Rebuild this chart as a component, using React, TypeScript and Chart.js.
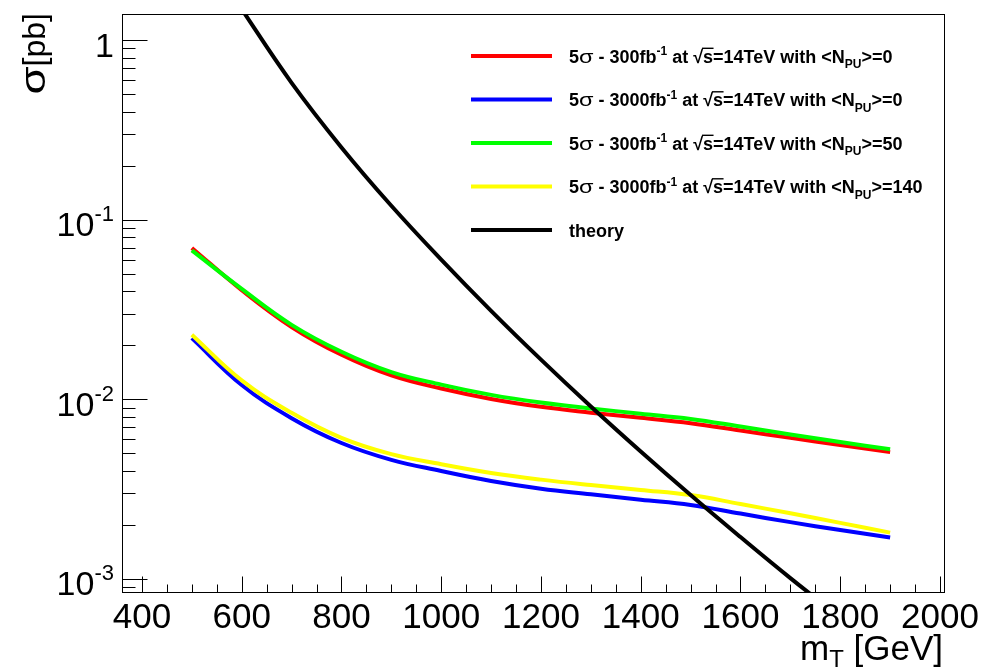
import React, { useEffect, useRef } from "react";
import { Chart, registerables } from "chart.js";

Chart.register(...registerables);

// ---------- data ----------
const massGeV = [500, 600, 700, 800, 900, 1000, 1100, 1200, 1300, 1400, 1500, 1600, 1700, 1800, 1900];
const red300PU0 = [0.0697, 0.04055, 0.02529, 0.0177, 0.01358, 0.01148, 0.01005, 0.00908, 0.00843, 0.00789, 0.00736, 0.0067, 0.0061, 0.00556, 0.00508];
const blue3000PU0 = [0.02193, 0.01202, 0.00785, 0.00571, 0.0046, 0.00399, 0.00351, 0.00318, 0.00296, 0.00276, 0.00258, 0.00231, 0.00207, 0.00187, 0.0017];
const green300PU50 = [0.0675, 0.0412, 0.026, 0.01841, 0.01419, 0.01208, 0.01059, 0.00959, 0.00889, 0.00832, 0.00778, 0.00705, 0.00637, 0.00578, 0.00527];
const yellow3000PU140 = [0.0229, 0.01274, 0.00841, 0.0061, 0.00495, 0.00435, 0.00389, 0.00357, 0.00333, 0.00313, 0.00293, 0.00261, 0.00232, 0.00205, 0.00181];
const theoryMassGeV = [550, 600, 700, 800, 900, 1000, 1100, 1200, 1300, 1400, 1500, 1600, 1700, 1800];
const theoryXsec = [2.44, 1.49, 0.579, 0.253, 0.1197, 0.06, 0.0311, 0.01663, 0.00912, 0.00512, 0.00293, 0.00171, 0.00101, 0.00061];

const xMajorTicks = [400, 600, 800, 1000, 1200, 1400, 1600, 1800, 2000];
const xMinorStep = 50;
const yMajorTicks = [1, 0.1, 0.01, 0.001];
const yMajorExponents = [0, -1, -2, -3];

const FONT = '"Liberation Sans", Arial, Helvetica, sans-serif';

type Seg = { t: string; size: number; dy?: number; sx?: number; bold?: boolean; overline?: boolean };

const legendEntries: { color: string; segs: Seg[] }[] = (() => {
  const mk = (lumi: string, pu: string): Seg[] => [
    { t: "5", size: 18, bold: true },
    { t: "σ", size: 18, sx: 1.3 },
    { t: " - " + lumi + "fb", size: 18, bold: true },
    { t: "-1", size: 12, bold: true, dy: -7.5 },
    { t: " at ", size: 18, bold: true },
    { t: "√", size: 18, bold: true },
    { t: "s", size: 18, bold: true, overline: true },
    { t: "=14TeV with <N", size: 18, bold: true },
    { t: "PU", size: 12, bold: true, dy: 5.5 },
    { t: ">=" + pu, size: 18, bold: true },
  ];
  return [
    { color: "#ff0000", segs: mk("300", "0") },
    { color: "#0000ff", segs: mk("3000", "0") },
    { color: "#00ff00", segs: mk("300", "50") },
    { color: "#ffff00", segs: mk("3000", "140") },
    { color: "#000000", segs: [{ t: "theory", size: 18, bold: true }] },
  ];
})();

function fontOf(s: Seg) {
  return `${s.bold ? "bold " : ""}${s.size}px ${FONT}`;
}

function richWidth(ctx: CanvasRenderingContext2D, segs: Seg[]) {
  let w = 0;
  for (const s of segs) {
    ctx.font = fontOf(s);
    w += ctx.measureText(s.t).width * (s.sx ?? 1);
  }
  return w;
}

function drawRich(ctx: CanvasRenderingContext2D, segs: Seg[], x: number, y: number) {
  let cx = x;
  let radTop = y - 14;
  for (const s of segs) {
    ctx.font = fontOf(s);
    const m = ctx.measureText(s.t);
    const w = m.width * (s.sx ?? 1);
    ctx.save();
    ctx.translate(cx, y + (s.dy ?? 0));
    ctx.scale(s.sx ?? 1, 1);
    ctx.fillText(s.t, 0, 0);
    ctx.restore();
    if (s.t === "√") radTop = y - m.actualBoundingBoxAscent + 0.8;
    if (s.overline) {
      ctx.save();
      ctx.lineWidth = 1.4;
      ctx.beginPath();
      ctx.moveTo(cx - 1, radTop);
      ctx.lineTo(cx + w + 0.5, radTop);
      ctx.stroke();
      ctx.restore();
    }
    cx += w;
  }
  return cx;
}

const rootStylePlugin = {
  id: "rootStyle",
  afterDatasetsDraw(chart: any) {
    const { ctx, chartArea: a, scales } = chart;
    const xs = scales.x;
    const ys = scales.y;
    ctx.save();
    ctx.strokeStyle = "#000";
    ctx.fillStyle = "#000";
    ctx.lineWidth = 1;
    const seg = (x1: number, y1: number, x2: number, y2: number) => {
      ctx.beginPath();
      ctx.moveTo(x1, y1);
      ctx.lineTo(x2, y2);
      ctx.stroke();
    };
    // frame
    ctx.strokeRect(a.left + 0.5, a.top + 0.5, a.right - a.left, a.bottom - a.top);

    // x ticks
    const bottom = a.bottom + 0.5;
    for (let v = xMajorTicks[0] - 2 * xMinorStep; v <= xMajorTicks[xMajorTicks.length - 1]; v += xMinorStep) {
      if (v < xs.min || v > xs.max) continue;
      const px = Math.round(xs.getPixelForValue(v)) + 0.5;
      const major = xMajorTicks.includes(v);
      seg(px, bottom, px, bottom - (major ? 16 : 8));
    }
    ctx.font = `35px ${FONT}`;
    ctx.textAlign = "center";
    ctx.textBaseline = "alphabetic";
    for (const v of xMajorTicks) {
      ctx.fillText(String(v), xs.getPixelForValue(v), 628);
    }

    // y ticks
    const left = a.left + 0.5;
    for (let d = -4; d <= 0; d++) {
      for (let k = 1; k <= 9; k++) {
        const v = k * Math.pow(10, d);
        if (v < ys.min || v > ys.max) continue;
        const py = Math.round(ys.getPixelForValue(v)) + 0.5;
        seg(left, py, left + (k === 1 ? 25 : 13), py);
      }
    }
    ctx.textAlign = "left";
    yMajorTicks.forEach((v, i) => {
      const py = ys.getPixelForValue(v);
      const e = yMajorExponents[i];
      const segs: Seg[] = e === 0 ? [{ t: "1", size: 34 }] : [{ t: "10", size: 34 }, { t: String(e), size: 22, dy: -15 }];
      const w = richWidth(ctx, segs);
      drawRich(ctx, segs, 114 - w, py + 16.5);
    });

    // x title
    const xt: Seg[] = [{ t: "m", size: 35 }, { t: "T", size: 24, dy: 7 }, { t: " [GeV]", size: 35 }];
    drawRich(ctx, xt, 943 - richWidth(ctx, xt), 660);

    // y title (rotated)
    ctx.save();
    ctx.translate(45, 13);
    ctx.rotate(-Math.PI / 2);
    const yt: Seg[] = [{ t: "σ", size: 35, sx: 1.3 }, { t: "[pb]", size: 32 }];
    drawRich(ctx, yt, -richWidth(ctx, yt), 0);
    ctx.restore();

    // legend
    legendEntries.forEach((en, i) => {
      const y = 56 + i * 43.5;
      ctx.save();
      ctx.strokeStyle = en.color;
      ctx.lineWidth = 4;
      seg(471, y, 552, y);
      ctx.restore();
      drawRich(ctx, en.segs, 569, y + 6.5);
    });
    ctx.restore();
  },
};

export default function App() {
  const canvasRef = useRef<HTMLCanvasElement | null>(null);

  useEffect(() => {
    if (!canvasRef.current) return;
    const toPts = (xs: number[], ys: number[]) => xs.map((x, i) => ({ x, y: ys[i] }));
    const common = {
      borderWidth: 4,
      pointRadius: 0,
      fill: false,
      tension: 0.4,
      clip: 0,
      borderCapStyle: "butt" as const,
      borderJoinStyle: "round" as const,
    };
    const chart = new Chart(canvasRef.current, {
      type: "line",
      data: {
        datasets: [
          { label: "red", data: toPts(massGeV, red300PU0), borderColor: "#ff0000", order: 5, ...common },
          { label: "blue", data: toPts(massGeV, blue3000PU0), borderColor: "#0000ff", order: 4, ...common },
          { label: "green", data: toPts(massGeV, green300PU50), borderColor: "#00ff00", order: 3, ...common },
          { label: "yellow", data: toPts(massGeV, yellow3000PU140), borderColor: "#ffff00", order: 2, ...common },
          { label: "theory", data: toPts(theoryMassGeV, theoryXsec), borderColor: "#000000", order: 1, ...common },
        ],
      },
      options: {
        responsive: false,
        animation: false,
        devicePixelRatio: 1,
        layout: { padding: { left: 122, top: 14, right: 39, bottom: 75 } },
        plugins: { legend: { display: false }, tooltip: { enabled: false } },
        scales: {
          x: { type: "linear", min: 360, max: 2008, display: false },
          y: { type: "logarithmic", min: 8.45e-4, max: 1.4, display: false },
        },
      },
      plugins: [rootStylePlugin],
    });
    return () => chart.destroy();
  }, []);

  return (
    <div style={{ position: "absolute", left: 0, top: 0, width: 983, height: 667, background: "#fff" }}>
      <canvas ref={canvasRef} width={983} height={667} style={{ display: "block" }} />
    </div>
  );
}
